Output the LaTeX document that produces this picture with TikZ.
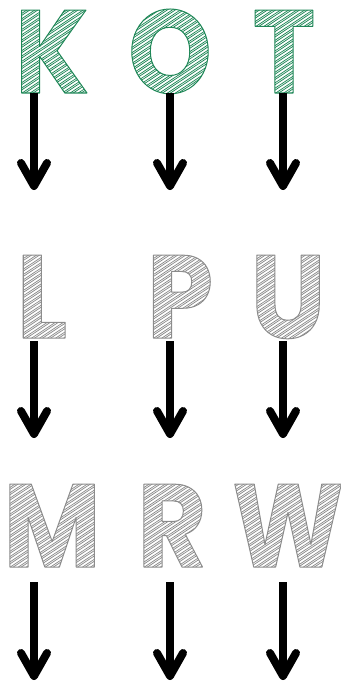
\documentclass[tikz,border=0pt]{standalone}
\usepackage{fontspec}
\setmainfont{Poppins}[FakeStretch=0.9]
\usetikzlibrary{calc}

% hatch strokes, in bp from the start of a letter's baseline;
% the gap alternates a little so the shading looks hand drawn
\newcount\hc
\newcount\hstep
\def\hatchpath{}
\hc=-170
\hstep=3
\loop
  \edef\hatchpath{\hatchpath\space\the\hc\space -6 m \the\numexpr\hc+160\relax\space 100 l}
  \advance\hc by \hstep
  \ifnum\hstep=3 \hstep=5 \else \hstep=3 \fi
\ifnum\hc<120 \repeat

% letter used as clip, hatched inside
\newcommand\hatchfill[2]{%
  \rlap{\special{pdf:literal direct 7 Tr}#1}%
  \special{pdf:literal 0 Tr #2 RG 0.75 w 1 J\hatchpath\space S}%
  \phantom{#1}}
% letter stroked as an outline
\newcommand\outlined[2]{%
  \special{pdf:literal direct 1 Tr 1 w 1 j #2 RG}#1\special{pdf:literal 0 Tr 0 0 0 RG}}

\def\greenrgb{0.12 0.53 0.34}
\def\greyrgb{0.55 0.55 0.55}

\tikzset{
  glyph/.style={inner sep=0pt, anchor=base, font=\fontsize{118}{118}\bfseries\selectfont},
  shaft/.style={line width=8pt, draw=black},
  barb/.style={line width=8pt, draw=black, line cap=round, line join=round}
}

\newcommand\sketchletter[4]{%
  \node[glyph] (#1) at (#2) {\hatchfill{#3}{#4}};
  \node[glyph] (#1o) at (#2) {\outlined{#3}{#4}};}

\begin{document}
\begin{tikzpicture}[x=1pt,y=-1pt]
  \useasboundingbox (0,0) rectangle (340,682);

  % first row
  \sketchletter{K}{52,93}{K}{\greenrgb}
  \sketchletter{O}{170,93}{O}{\greenrgb}
  \sketchletter{T}{284,93}{T}{\greenrgb}
  % second row
  \sketchletter{L}{42,338}{L}{\greyrgb}
  \sketchletter{P}{180,338}{P}{\greyrgb}
  \sketchletter{U}{288,338}{U}{\greyrgb}
  % third row
  \sketchletter{M}{52,567}{M}{\greyrgb}
  \sketchletter{R}{172,567}{R}{\greyrgb}
  \sketchletter{W}{288,567}{W}{\greyrgb}

  % arrows under each letter
  \foreach \c/\x in {a/34,b/170,c/283}{
    \coordinate (\c1s) at (\x,93);  \coordinate (\c1t) at (\x,186);
    \coordinate (\c2s) at (\x,341); \coordinate (\c2t) at (\x,434);
    \coordinate (\c3s) at (\x,582); \coordinate (\c3t) at (\x,676);
    \foreach \r in {1,2,3}{
      \draw[shaft] (\c\r s) -- (\c\r t);
      \draw[barb] ($(\c\r t)+(-13,-23)$) -- (\c\r t) -- ($(\c\r t)+(13,-23)$);
    }
  }
\end{tikzpicture}
\end{document}
